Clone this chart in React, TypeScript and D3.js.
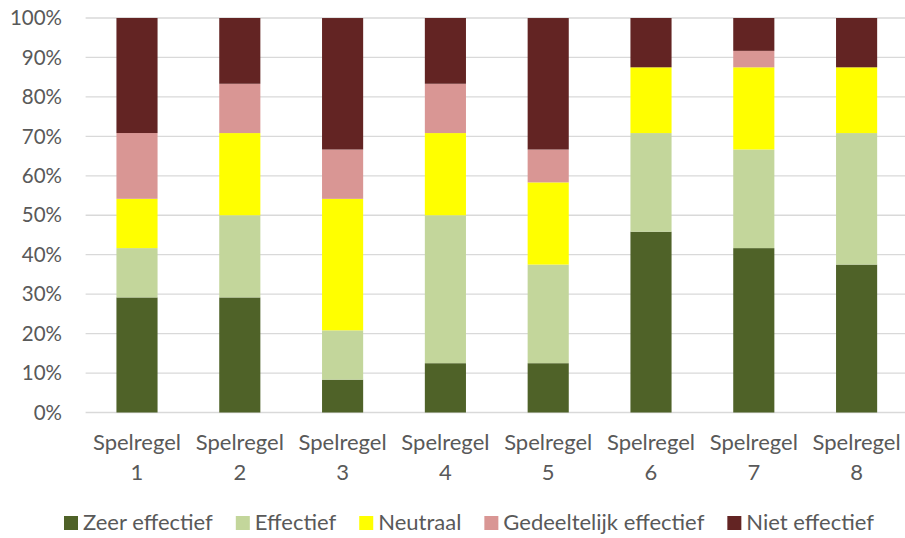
import React, { useEffect, useRef } from "react";
import * as d3 from "d3";

const categories = ["Spelregel 1", "Spelregel 2", "Spelregel 3", "Spelregel 4", "Spelregel 5", "Spelregel 6", "Spelregel 7", "Spelregel 8"];
const seriesNames = ["Zeer effectief", "Effectief", "Neutraal", "Gedeeltelijk effectief", "Niet effectief"];
const seriesColors = ["#4F6228", "#C3D69B", "#FFFF00", "#D99694", "#632423"];
const zeerEffectief = [29.17, 29.17, 8.33, 12.5, 12.5, 45.83, 41.67, 37.5];
const effectief = [12.5, 20.83, 12.5, 37.5, 25.0, 25.0, 25.0, 33.33];
const neutraal = [12.5, 20.83, 33.33, 20.83, 20.83, 16.67, 20.83, 16.67];
const gedeeltelijk = [16.67, 12.5, 12.5, 12.5, 8.33, 0, 4.17, 0];
const nietEffectief = [29.17, 16.67, 33.33, 16.67, 33.33, 12.5, 8.33, 12.5];
const yTicks = [0, 10, 20, 30, 40, 50, 60, 70, 80, 90, 100];

const W = 905;
const H = 538;
const FONT = "Lato, 'Open Sans', sans-serif";
const TEXT = "#595959";

export default function App() {
  const ref = useRef<SVGSVGElement>(null);
  useEffect(() => {
    const svg = d3.select(ref.current);
    svg.selectAll("*").remove();
    const seriesValues = [zeerEffectief, effectief, neutraal, gedeeltelijk, nietEffectief];
    const rows = categories.map((c, i) => {
      const r: any = { cat: c };
      seriesNames.forEach((s, k) => (r[s] = seriesValues[k][i]));
      return r;
    });
    const stack = d3.stack<any>().keys(seriesNames);
    const stacked = stack(rows);

    const x = d3.scaleBand().domain(categories).range([85.6, 908]).paddingInner(0.6).paddingOuter(0.3);
    const y = d3.scaleLinear().domain([0, 100]).range([412.5, 18]);

    const g = svg.append("g");
    g.selectAll("line.grid").data(yTicks).join("line")
      .attr("x1", 85.6).attr("x2", 908)
      .attr("y1", d => y(d)).attr("y2", d => y(d))
      .attr("stroke", "#D9D9D9").attr("stroke-width", 1.3);

    g.selectAll("text.ytick").data(yTicks).join("text")
      .attr("x", 62).attr("y", d => y(d))
      .attr("dy", "0.35em").attr("text-anchor", "end")
      .attr("font-family", FONT).attr("font-size", 20.5).attr("fill", TEXT)
      .text(d => d + "%");

    stacked.forEach((layer, k) => {
      g.selectAll(null).data(layer).join("rect")
        .attr("x", (d: any) => x(d.data.cat)!)
        .attr("width", x.bandwidth())
        .attr("y", d => y(d[1]))
        .attr("height", d => Math.max(0, y(d[0]) - y(d[1])))
        .attr("fill", seriesColors[k]);
    });

    categories.forEach(c => {
      const parts = c.split(" ");
      const t = g.append("text")
        .attr("text-anchor", "middle")
        .attr("font-family", FONT).attr("font-size", 22).attr("fill", TEXT);
      parts.forEach((p, i) => {
        t.append("tspan").attr("x", x(c)! + x.bandwidth() / 2).attr("y", 450 + i * 30).text(p);
      });
    });

    // legend
    const lg = svg.append("g");
    const items = seriesNames.map((s, k) => {
      const it = lg.append("g");
      it.append("rect").attr("width", 14).attr("height", 14).attr("y", 516).attr("fill", seriesColors[k]);
      const tx = it.append("text").attr("x", 19).attr("y", 530)
        .attr("font-family", FONT).attr("font-size", 22).attr("fill", TEXT).text(s);
      const w = (tx.node() as SVGTextElement).getComputedTextLength();
      return { it, w: 19 + w };
    });
    const gap = 23;
    const total = d3.sum(items, d => d.w) + gap * (items.length - 1);
    let cx = 469 - total / 2;
    items.forEach(d => {
      d.it.attr("transform", `translate(${cx},0)`);
      cx += d.w + gap;
    });
  }, []);
  return (
    <svg ref={ref} width={W} height={H} style={{ position: "absolute", left: 0, top: 0, background: "#fff" }} />
  );
}
